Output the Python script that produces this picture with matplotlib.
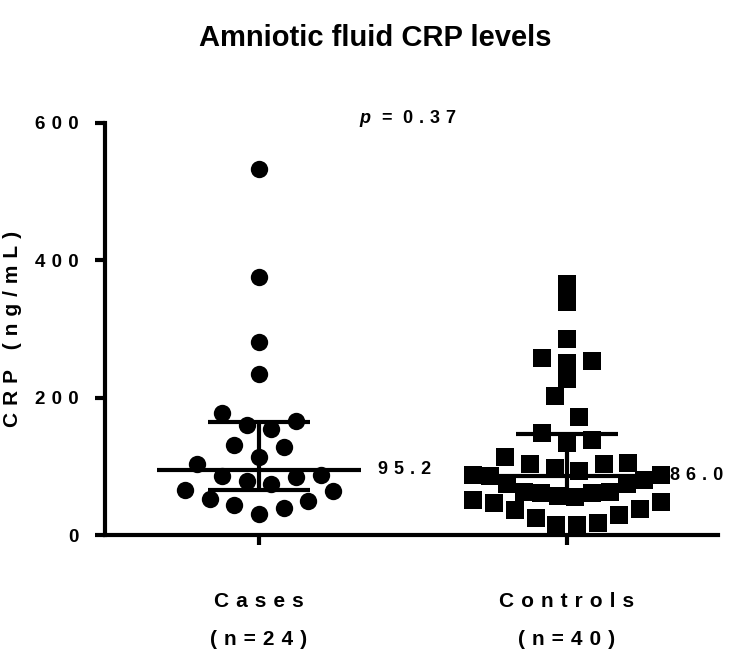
import numpy as np
import matplotlib
matplotlib.use("Agg")
import matplotlib.pyplot as plt

# values
groups = ["Cases", "Controls"]
group_n = [24, 40]
cases = [533, 376, 281, 234, 177, 166, 160, 154, 131, 128, 114, 104, 88, 86,
         85, 79, 75, 66, 64, 53, 49, 44, 40, 30]
controls = [366, 339, 286, 258, 253, 250, 227, 202, 172, 148, 138, 134, 113,
            105, 104, 104, 97, 93, 88, 87, 86, 80, 75, 75, 63, 62, 61, 61, 57,
            56, 51, 48, 46, 38, 36, 29, 25, 17, 15, 15]
medians = [95.2, 86.0]
q1 = [66, 58]
q3 = [164, 147]
yticks = [0, 200, 400, 600]
p_value = "0.37"

plt.rcParams["font.family"] = ["Liberation Sans", "DejaVu Sans"]
plt.rcParams["font.weight"] = "bold"
plt.rcParams["mathtext.fontset"] = "custom"
plt.rcParams["mathtext.it"] = "Liberation Sans:bold:italic"
plt.rcParams["mathtext.rm"] = "Liberation Sans:bold"

SP = "\u2004"


def spaced(s):
    # Prism style letter spacing
    return SP.join(s)


def prism_swarm(values, center, row_height=38.5, step=0.08, half_width=0.305):
    # rows of similar values laid out side by side, lowest in the middle
    v = np.asarray(values, float)
    rows = np.floor((v - v.min()) / row_height).astype(int)
    x = np.zeros(len(v))
    for r in np.unique(rows):
        idx = np.where(rows == r)[0]
        idx = idx[np.argsort(v[idx], kind="stable")]
        n = len(idx)
        sp = step if n < 2 else min(step, 2 * half_width / (n - 1))
        slots = (np.arange(n) - (n - 1) / 2) * sp
        order = sorted(range(n), key=lambda j: (round(abs(slots[j]), 6), -slots[j]))
        for k, j in enumerate(order):
            x[idx[k]] = center + slots[j]
    return x


fig = plt.figure(figsize=(7.5, 6.52), dpi=100)
ax = fig.add_axes([0.14, 0.1794, 0.817, 0.632])

ax.scatter(prism_swarm(cases, 0), cases, marker="o", s=12.5 ** 2,
           color="black", linewidths=0, zorder=2, clip_on=False)
ax.scatter(prism_swarm(controls, 1), controls, marker="s", s=12.5 ** 2,
           color="black", linewidths=0, zorder=2, clip_on=False)

for i in range(len(groups)):
    ax.hlines(medians[i], i - 0.33, i + 0.33, color="black", lw=3, zorder=3)
    ax.hlines([q1[i], q3[i]], i - 0.165, i + 0.165, color="black", lw=3, zorder=3)
    ax.vlines(i, q1[i], q3[i], color="black", lw=3, zorder=3)

ax.text(0 + 0.385, medians[0], spaced(f"{medians[0]:.1f}"), fontsize=13,
        fontweight="bold", ha="left", va="center")
ax.text(1 + 0.335, medians[1], spaced(f"{medians[1]:.1f}"), fontsize=13,
        fontweight="bold", ha="left", va="center", clip_on=False)

ax.text(0.485, 607, "$p$ " + SP + "=" + SP + " " + spaced(p_value), fontsize=13,
        fontweight="bold", ha="center", va="center", clip_on=False)

ax.set_xlim(-0.5, 1.49)
ax.set_ylim(0, 600)
ax.set_yticks(yticks)
ax.set_yticklabels([spaced(str(t)) for t in yticks], fontsize=13.5, fontweight="bold")
ax.set_xticks(range(len(groups)))
ax.set_xticklabels([spaced(g) + "\n" + spaced(f"(n={n})") for g, n in zip(groups, group_n)],
                   fontsize=15, fontweight="bold", linespacing=2.25)
ax.set_ylabel(spaced("CRP (ng/mL)"), fontsize=15, fontweight="bold")
ax.yaxis.set_label_coords(-0.135, 0.5)

for s in ["top", "right"]:
    ax.spines[s].set_visible(False)
for s in ["left", "bottom"]:
    ax.spines[s].set_linewidth(3)
ax.tick_params(axis="y", length=7, width=3, pad=12)
ax.tick_params(axis="x", length=7, width=3, pad=34)

fig.text(0.5, 1 - 38 / 652, "Amniotic fluid CRP levels", fontsize=21,
         fontweight="bold", ha="center", va="center")

fig.savefig("out.png", dpi=100)
